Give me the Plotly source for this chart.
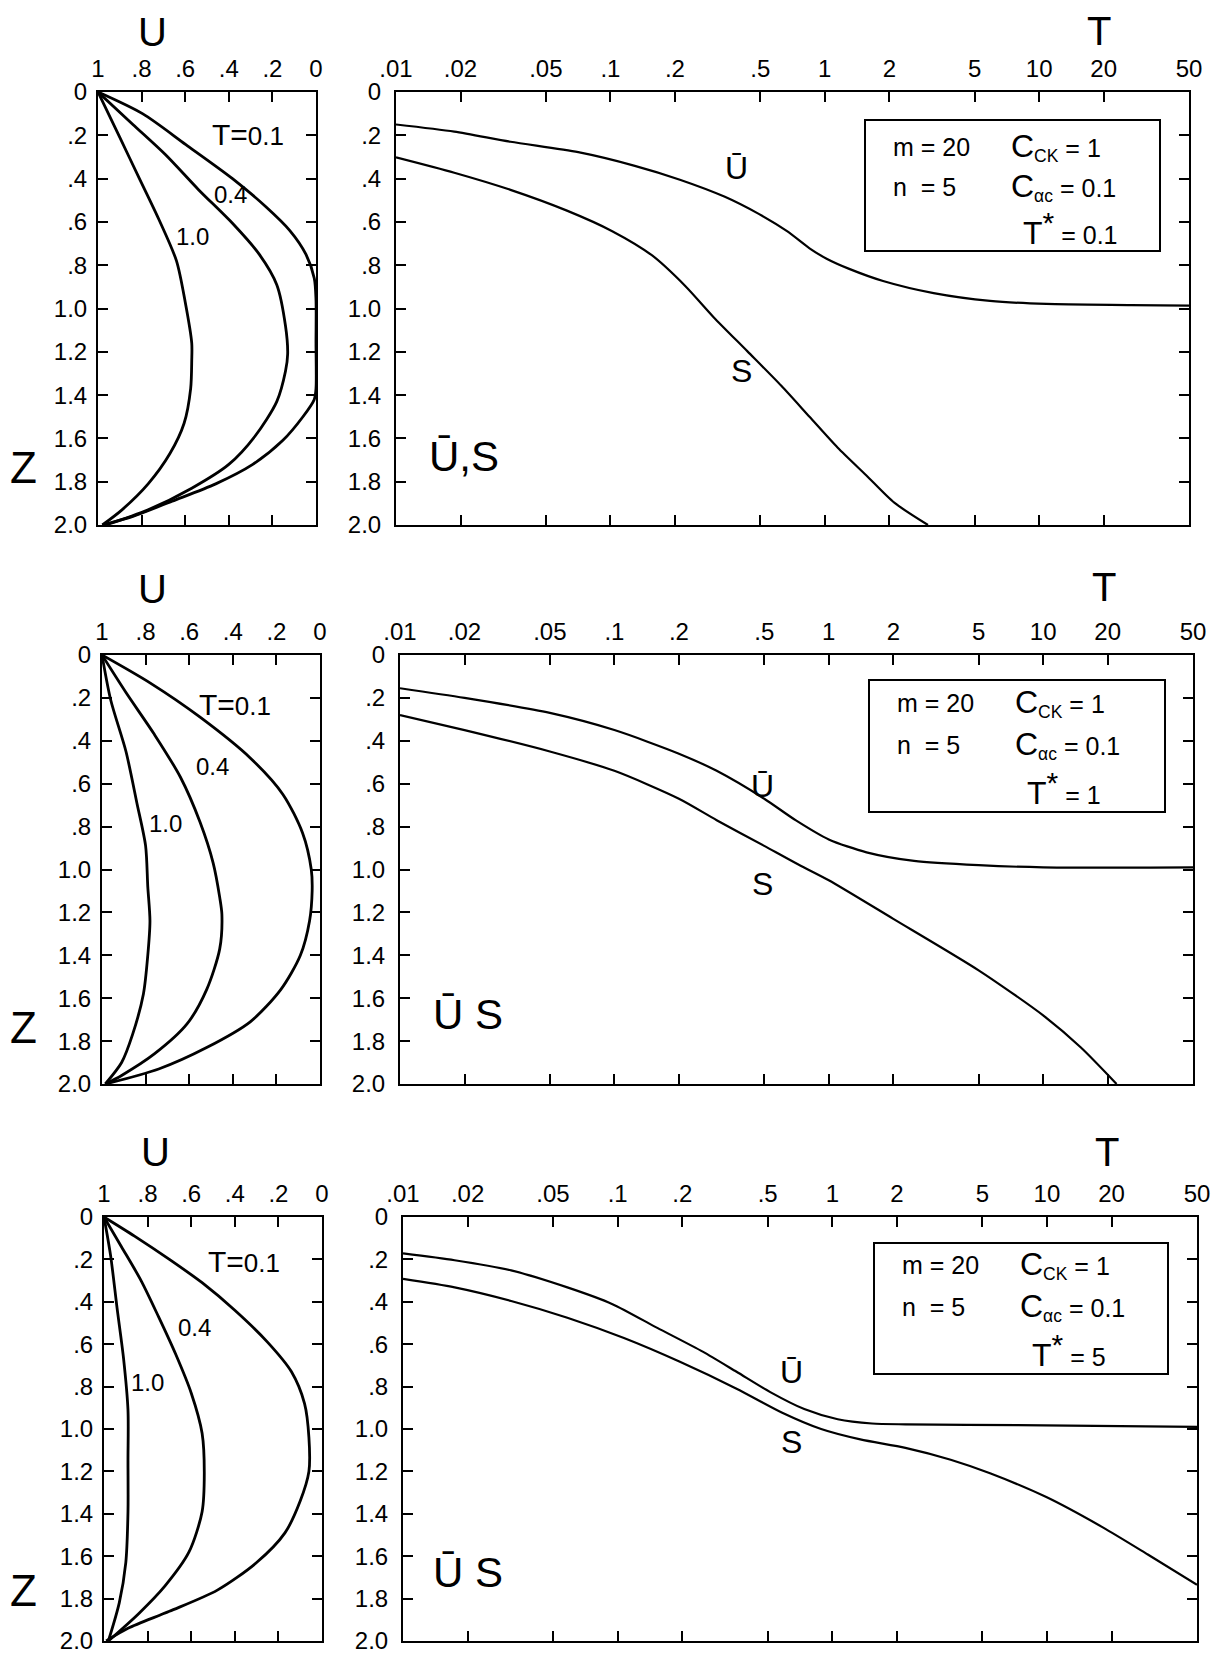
import plotly.graph_objects as go

# ---------------- data ----------------
Z_TICKS = [0, 0.2, 0.4, 0.6, 0.8, 1.0, 1.2, 1.4, 1.6, 1.8, 2.0]
Z_TEXT = ["0", ".2", ".4", ".6", ".8", "1.0", "1.2", "1.4", "1.6", "1.8", "2.0"]
U_TICKS = [1, 0.8, 0.6, 0.4, 0.2, 0]
U_TEXT = ["1", ".8", ".6", ".4", ".2", "0"]
T_TICKS = [0.01, 0.02, 0.05, 0.1, 0.2, 0.5, 1, 2, 5, 10, 20, 50]
T_TEXT = [".01", ".02", ".05", ".1", ".2", ".5", "1", "2", "5", "10", "20", "50"]
PROFILE_T = ["0.1", "0.4", "1.0"]
TSTAR = ["0.1", "1", "5"]

# panel 1 (T* = 0.1) : U profiles
p1_u01 = [1, .796, .597, .383, .23, .12, .046, .008, 0, 0, 0, .008, .06, .153, .29, .46, .66, .84, .98]
p1_z01 = [0, .10, .243, .40, .53, .64, .75, .86, .96, 1.16, 1.37, 1.42, 1.50, 1.61, 1.72, 1.81, 1.89, 1.96, 2.0]
p1_u04 = [1, .84, .69, .54, .38, .26, .18, .14, .13, .14, .18, .28, .40, .57, .77, .965]
p1_z04 = [0, .15, .29, .45, .61, .75, .89, 1.08, 1.21, 1.29, 1.43, 1.59, 1.72, 1.83, 1.93, 2.0]
p1_u10 = [1, .90, .81, .72, .64, .60, .57, .57, .575, .605, .67, .77, .89, .98]
p1_z10 = [0, .21, .40, .59, .78, .97, 1.16, 1.24, 1.37, 1.53, 1.67, 1.81, 1.93, 2.0]

# panel 2 (T* = 1)
p2_u01 = [1, .78, .55, .32, .17, .08, .04, .036, .048, .09, .18, .32, .52, .74, .985]
p2_z01 = [0, .13, .29, .48, .65, .83, 1.00, 1.10, 1.24, 1.40, 1.56, 1.71, 1.83, 1.93, 2.0]
p2_u04 = [1, .89, .76, .64, .55, .49, .46, .45, .46, .52, .61, .76, .91, .985]
p2_z04 = [0, .175, .37, .57, .78, .97, 1.13, 1.21, 1.37, 1.56, 1.72, 1.86, 1.96, 2.0]
p2_u10 = [1, .96, .89, .84, .80, .79, .78, .79, .81, .86, .91, .985]
p2_z10 = [0, .21, .45, .69, .89, 1.08, 1.24, 1.40, 1.58, 1.77, 1.90, 2.0]

# panel 3 (T* = 5)
p3_u01 = [1, .86, .70, .55, .40, .25, .14, .08, .06, .06, .10, .17, .30, .48, .70, .89, .99]
p3_z01 = [0, .09, .20, .31, .44, .59, .73, .88, 1.04, 1.20, 1.34, 1.49, 1.63, 1.76, 1.86, 1.94, 2.0]
p3_u04 = [1, .92, .83, .75, .67, .60, .55, .54, .55, .61, .72, .84, .98]
p3_z04 = [0, .14, .30, .47, .65, .83, 1.02, 1.21, 1.39, 1.58, 1.74, 1.87, 2.0]
p3_u10 = [1, .97, .94, .91, .89, .89, .89, .90, .93, .98]
p3_z10 = [0, .18, .43, .67, .91, 1.15, 1.39, 1.63, 1.82, 2.0]

# right charts: mean U (Ubar) and S depth versus T
p1_ubar_t = [.01, .0187, .0342, .0708, .130, .211, .342, .492, .667, .849, 1.02, 1.30, 1.87, 3.22, 5.90, 10.8, 26.9, 50]
p1_ubar_z = [.15, .183, .23, .278, .341, .405, .484, .563, .643, .722, .77, .817, .873, .929, .965, .979, .984, .987]
p1_s_t = [.01, .0187, .0342, .0627, .102, .156, .224, .303, .436, .627, .849, 1.15, 1.56, 2.11, 3.03]
p1_s_z = [.302, .373, .452, .548, .643, .754, .897, 1.04, 1.198, 1.357, 1.5, 1.643, 1.77, 1.897, 2.0]

p2_ubar_t = [.01, .02, .05, .1, .2, .3, .5, .7, 1.0, 1.5, 2.5, 5, 10, 50]
p2_ubar_z = [.155, .20, .27, .35, .46, .54, .67, .77, .86, .92, .96, .98, .99, .99]
p2_s_t = [.01, .02, .05, .1, .2, .3, .5, .7, 1.0, 2, 5, 10, 15, 22]
p2_s_z = [.28, .35, .45, .54, .67, .77, .89, .97, 1.05, 1.23, 1.47, 1.68, 1.83, 2.0]

p3_ubar_t = [.01, .0174, .0319, .0583, .0946, .153, .249, .358, .514, .740, 1.06, 1.53, 2.19, 7.35, 50]
p3_ubar_z = [.172, .204, .252, .332, .411, .523, .635, .73, .826, .906, .954, .974, .978, .982, .99]
p3_s_t = [.01, .0174, .0319, .0583, .107, .195, .358, .581, .887, 1.35, 2.19, 3.56, 5.43, 9.93, 18.2, 29.5, 50]
p3_s_z = [.292, .332, .396, .475, .571, .683, .81, .922, 1.0, 1.049, 1.089, 1.145, 1.209, 1.321, 1.464, 1.592, 1.735]

profiles = [
    [(p1_u01, p1_z01), (p1_u04, p1_z04), (p1_u10, p1_z10)],
    [(p2_u01, p2_z01), (p2_u04, p2_z04), (p2_u10, p2_z10)],
    [(p3_u01, p3_z01), (p3_u04, p3_z04), (p3_u10, p3_z10)],
]
depths = [
    [(p1_ubar_t, p1_ubar_z), (p1_s_t, p1_s_z)],
    [(p2_ubar_t, p2_ubar_z), (p2_s_t, p2_s_z)],
    [(p3_ubar_t, p3_ubar_z), (p3_s_t, p3_s_z)],
]

# ---------------- geometry (page pixels) ----------------
W, H = 1211, 1648
OFF = 8


def px(x):
    return (x - OFF) / W


def py(y):
    return 1 - (y - OFF) / H


panels = [
    dict(left=(98, 316), right=(396, 1189), y=(92, 525)),
    dict(left=(102, 320), right=(400, 1193), y=(655, 1084)),
    dict(left=(104, 322), right=(403, 1197), y=(1217, 1641)),
]

FONT = "Liberation Sans, Arial, sans-serif"

fig = go.Figure()
layout = dict(
    width=W, height=H, margin=dict(l=0, r=0, t=0, b=0, autoexpand=False),
    paper_bgcolor="white", plot_bgcolor="white", showlegend=False,
    font=dict(family=FONT, color="black", size=24),
)
annotations = []
shapes = []

axis_common = dict(
    showline=True, linecolor="black", linewidth=2, mirror="ticks",
    ticks="inside", ticklen=10, tickwidth=1.5, tickcolor="black",
    showgrid=False, zeroline=False, automargin=False,
    ticklabeloverflow="allow",
    tickfont=dict(family=FONT, size=24, color="black"),
)

for i, p in enumerate(panels):
    li, ri = 2 * i + 1, 2 * i + 2
    ydom = [py(p["y"][1]), py(p["y"][0])]
    layout[f"xaxis{li}"] = dict(
        axis_common, domain=[px(p["left"][0]), px(p["left"][1])],
        range=[1, 0], side="top", anchor=f"y{li}",
        tickvals=U_TICKS, ticktext=U_TEXT, ticklabelstandoff=3,
    )
    layout[f"yaxis{li}"] = dict(
        axis_common, domain=ydom, range=[2, 0], anchor=f"x{li}",
        tickvals=Z_TICKS, ticktext=Z_TEXT, ticklabelstandoff=4,
    )
    layout[f"xaxis{ri}"] = dict(
        axis_common, domain=[px(p["right"][0]), px(p["right"][1])],
        type="log", range=[-2, 1.69897], side="top", anchor=f"y{ri}",
        tickvals=T_TICKS, ticktext=T_TEXT, ticklabelstandoff=3,
    )
    layout[f"yaxis{ri}"] = dict(
        axis_common, domain=ydom, range=[2, 0], anchor=f"x{ri}",
        tickvals=Z_TICKS, ticktext=Z_TEXT, ticklabelstandoff=8,
    )

    for (u, z) in profiles[i]:
        fig.add_trace(go.Scatter(
            x=u, y=z, mode="lines", xaxis=f"x{li}", yaxis=f"y{li}",
            line=dict(color="black", width=2.8, shape="spline", smoothing=0.8),
            hoverinfo="skip"))
    for (t, z) in depths[i]:
        fig.add_trace(go.Scatter(
            x=t, y=z, mode="lines", xaxis=f"x{ri}", yaxis=f"y{ri}",
            line=dict(color="black", width=2.2, shape="spline", smoothing=0.7),
            hoverinfo="skip"))


# ---------------- text ----------------
def ann(x, y, text, size, xanchor="center"):
    annotations.append(dict(
        x=px(x), y=py(y), xref="paper", yref="paper", text=text,
        showarrow=False, xanchor=xanchor, yanchor="middle",
        font=dict(family=FONT, size=size, color="black")))


u_pos = [(152, 32), (152, 589), (155, 1152)]
t_pos = [(1099, 31), (1104, 587), (1107, 1152)]
z_pos = [(23, 467), (23, 1027), (23, 1590)]
for i in range(3):
    ann(*u_pos[i], "U", 40)
    ann(*t_pos[i], "T", 40)
    ann(*z_pos[i], "Z", 44)

# profile labels (left charts)
prof_lab = [
    [(248, 134), (230, 195), (192, 236)],
    [(235, 704), (212, 766), (165, 823)],
    [(244, 1261), (195, 1327), (147, 1382)],
]
for i in range(3):
    (x1, y1), (x2, y2), (x3, y3) = prof_lab[i]
    ann(x1, y1, "T=<span style='font-size:26px'>" + PROFILE_T[0] + "</span>", 30)
    ann(x2, y2, PROFILE_T[1], 24)
    ann(x3, y3, PROFILE_T[2], 24)

# curve labels (right charts)
ubar_pos = [(736, 168), (762, 786), (791, 1372)]
s_pos = [(741, 371), (762, 884), (791, 1442)]
us_pos = [(464, 456), (468, 1014), (468, 1572)]
us_txt = ["Ū,S", "Ū S", "Ū S"]
for i in range(3):
    ann(*ubar_pos[i], "Ū", 32)
    ann(*s_pos[i], "S", 32)
    ann(*us_pos[i], us_txt[i], 42)

# parameter boxes
boxes = [(865, 1160, 120, 251), (869, 1165, 680, 812), (874, 1168, 1243, 1374)]
rows = [(147, 187, 228), (703, 745, 788), (1265, 1307, 1350)]
for i in range(3):
    x0, x1, y0, y1 = boxes[i]
    shapes.append(dict(type="rect", xref="paper", yref="paper",
                       x0=px(x0), x1=px(x1), y0=py(y1), y1=py(y0),
                       line=dict(color="black", width=2)))
    r1, r2, r3 = rows[i]
    cx = x0 + 26
    cc = x0 + 144
    ann(cx, r1, "m = 20", 25, xanchor="left")
    ann(cx, r2, "n  = 5", 25, xanchor="left")
    ann(cc, r1, "<span style='font-size:32px'>C</span><sub>CK</sub> = 1", 25, xanchor="left")
    ann(cc, r2, "<span style='font-size:32px'>C</span><sub>αc</sub> = 0.1", 25, xanchor="left")
    ann(cc + 12, r3, "<span style='font-size:32px'>T</span><sup><span style='font-size:30px'>*</span></sup> = " + TSTAR[i],
        25, xanchor="left")

layout["annotations"] = annotations
layout["shapes"] = shapes
fig.update_layout(**layout)
fig.write_html("out.html")
